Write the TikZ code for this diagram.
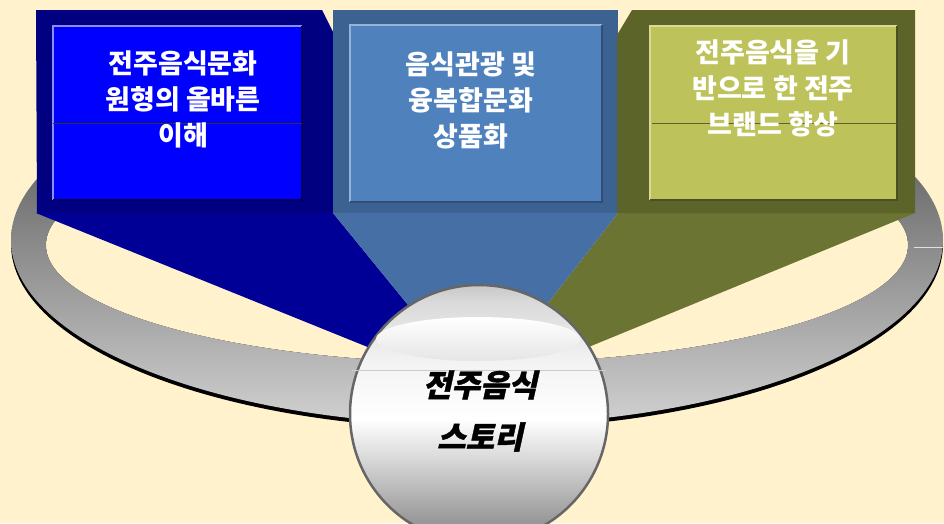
\documentclass[tikz,border=0pt]{standalone}
\usepackage{fontspec}
\newfontfamily\kr{Noto Sans CJK KR}
\newfontfamily\krit{Noto Sans CJK KR}[FakeSlant=0.22, FakeBold=1.2]
\definecolor{bg}{RGB}{255,242,204}
\definecolor{navyframe}{RGB}{0,0,128}
\definecolor{navytail}{RGB}{0,0,150}
\definecolor{bluepanel}{RGB}{0,0,255}
\definecolor{steelframe}{RGB}{60,98,145}
\definecolor{steeltail}{RGB}{70,112,165}
\definecolor{steelpanel}{RGB}{79,129,189}
\definecolor{oliveframe}{RGB}{92,100,42}
\definecolor{olivetail}{RGB}{107,116,50}
\definecolor{olivepanel}{RGB}{190,194,90}
\pgfdeclareverticalshading{ballshade}{100bp}{%
  color(0bp)=(black!45);
  color(25bp)=(black!45);
  color(29.5bp)=(black!40);
  color(41bp)=(black!16);
  color(49bp)=(white);
  color(60.5bp)=(black!5);
  color(72bp)=(black!15);
  color(75bp)=(black!22);
  color(100bp)=(black!22)}
\tikzset{
  boxtext/.style={font=\kr\bfseries\fontsize{27}{36}\selectfont, text=white, align=center},
  balltext/.style={font=\krit\bfseries\fontsize{31}{52}\selectfont, text=black, align=center},
}
\begin{document}
\begin{tikzpicture}[x=1pt,y=-1pt]
\useasboundingbox (0,0) rectangle (944,523);
\clip (0,0) rectangle (944,523);
\fill[bg] (0,0) rectangle (944,523);
% ring
\fill[black] (477,244) ellipse [x radius=466, y radius=185];
\fill[bg] (477,245) ellipse [x radius=431, y radius=118];
\shade[even odd rule, top color=black!75, bottom color=black!18]
  (477,240) ellipse [x radius=466, y radius=185]
  (477,245) ellipse [x radius=431, y radius=118];
\coordinate (r1) at (914,247);
\coordinate (r2) at (944,247);
\draw[black!12, line width=0.6] (r1) -- (r2);
% tails
\coordinate (c) at (479,392);
\fill[navytail] (36,213) -- (333,213) -- (c) -- cycle;
\fill[olivetail] (618,213) -- (915,213) -- (c) -- cycle;
\fill[steeltail] (333,213) -- (618,213) -- (c) -- cycle;
% left box
\fill[navyframe] (36,10) -- (322,10) -- (333,32) -- (333,213) -- (37,213) -- cycle;
\fill[bluepanel] (53,26) rectangle (302,200);
\draw[blue!45!white, line width=1.2] (53,200) -- (53,26) -- (302,26);
\draw[navyframe!70!black, line width=1.2] (53,200) -- (302,200) -- (302,26);
\draw[black!80, line width=0.6] (53,123) -- (302,123);
% middle box
\fill[steelframe] (333,10) rectangle (618,213);
\fill[steelpanel] (350,25) rectangle (602,202);
\draw[steelpanel!60!white, line width=1.2] (350,202) -- (350,25) -- (602,25);
\draw[steelframe!80!black, line width=1.2] (350,202) -- (602,202) -- (602,25);
% right box
\fill[oliveframe] (632,10) -- (915,10) -- (915,213) -- (617,213) -- (617,35) -- cycle;
\fill[olivepanel] (650,26) rectangle (897,200);
\draw[olivepanel!60!white, line width=1.2] (650,200) -- (650,26) -- (897,26);
\draw[oliveframe!80!black, line width=1.2] (650,200) -- (897,200) -- (897,26);
\draw[oliveframe, line width=0.6] (652,123) -- (897,123);
% texts
\node[boxtext] (t1) at (183,99) {전주음식문화\\원형의 올바른\\이해};
\node[boxtext] (t2) at (471,100) {음식관광 및\\융복합문화\\상품화};
\node[boxtext] (t3) at (773,88) {전주음식을 기\\반으로 한 전주\\브랜드 향상};
% sphere
\shade[shading=ballshade] (479,414) circle (129);
\draw[black!60, line width=2.5] (479,414) circle (129);
\shade[top color=white, bottom color=black!10] (478,339) ellipse [x radius=102, y radius=22];
\draw[black!20, line width=0.6] (352,370) -- (606,370);
\node[balltext] (ball) at (480,411) {전주음식\\스토리};
\end{tikzpicture}
\end{document}
